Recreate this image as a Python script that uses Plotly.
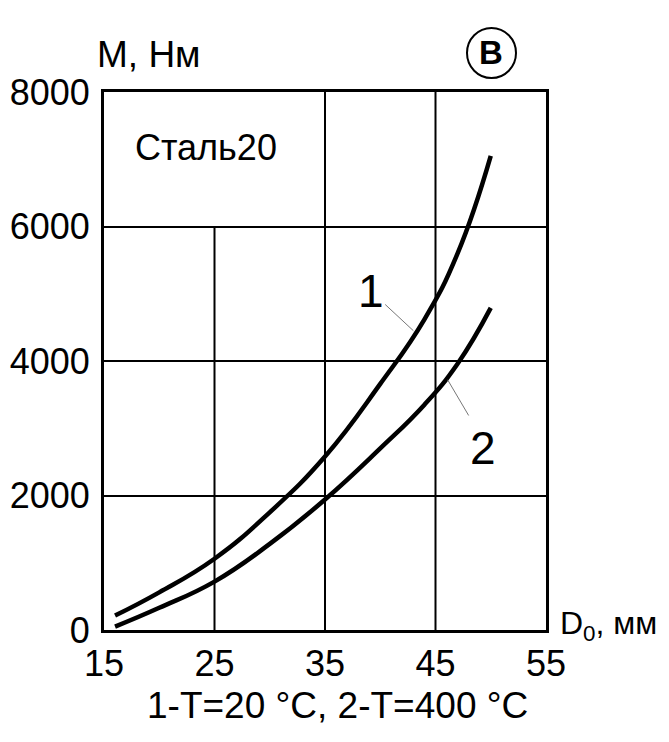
import plotly.graph_objects as go

# Data
d0 = [16, 20, 25, 30, 35, 40, 44, 47, 50]
m_t20 = [215, 560, 1060, 1750, 2580, 3660, 4620, 5600, 7050]    # curve 1, T=20 °C
m_t400 = [50, 330, 720, 1280, 1940, 2700, 3350, 3960, 4790]      # curve 2, T=400 °C
x_ticks = [15, 25, 35, 45, 55]
y_ticks = [0, 2000, 4000, 6000, 8000]

FONT = "Liberation Sans, Arial, sans-serif"
OFF = 7  # page offset of the figure inside the browser window
L, R, T, B = 103, 545, 91, 629  # target plot area in window pixels
W, H = R - L, B - T


def px(xp):
    return (xp - L) / W


def py(yp):
    return (B - yp) / H


fig = go.Figure()
fig.add_trace(go.Scatter(x=d0, y=m_t20, mode="lines",
                         line=dict(color="black", width=4.5, shape="spline", smoothing=1.3),
                         showlegend=False, hoverinfo="skip"))
fig.add_trace(go.Scatter(x=d0, y=m_t400, mode="lines",
                         line=dict(color="black", width=4.5, shape="spline", smoothing=1.3),
                         showlegend=False, hoverinfo="skip"))

shapes = []
for xv, ytop in [(25, 6000), (35, 8000), (45, 8000)]:
    shapes.append(dict(type="line", xref="x", yref="y", x0=xv, x1=xv, y0=0, y1=ytop,
                       line=dict(color="black", width=2), layer="below"))
shapes.append(dict(type="line", xref="x", yref="y", x0=40.45, y0=4840, x1=43.0, y1=4450,
                   line=dict(color="#777777", width=1)))
shapes.append(dict(type="line", xref="x", yref="y", x0=46.1, y0=3720, x1=48.0, y1=3190,
                   line=dict(color="#777777", width=1)))
shapes.append(dict(type="circle", xref="paper", yref="paper",
                   x0=px(466), x1=px(515), y0=py(77), y1=py(27),
                   line=dict(color="black", width=2)))


def ann(text, x, y, size, xref="paper", yref="paper", xanchor="center"):
    return dict(text=text, x=x, y=y, xref=xref, yref=yref, xanchor=xanchor,
                yanchor="middle", showarrow=False,
                font=dict(size=size, family=FONT, color="black"))


annotations = [
    ann("Сталь20", 24.2, 7170, 36, "x", "y"),
    ann("1", 39.15, 5040, 46, "x", "y"),
    ann("2", 49.3, 2710, 46, "x", "y"),
    ann("M, Нм", px(147.5), py(53), 37),
    ann("D<sub>0</sub>, мм", px(557), py(624), 32, xanchor="left"),
    ann("<b>В</b>", px(490), py(52), 33),
    ann("1-T=20 °C, 2-T=400 °C", px(336), py(704), 37),
]

fig.update_layout(
    width=669, height=742,
    margin=dict(l=L - OFF, r=669 - (R - OFF), t=T - OFF, b=742 - (B - OFF), autoexpand=False),
    paper_bgcolor="white", plot_bgcolor="white",
    showlegend=False,
    shapes=shapes,
    annotations=annotations,
    font=dict(family=FONT, color="black"),
)
fig.update_xaxes(range=[15, 55], tickvals=x_ticks, ticktext=[str(v) for v in x_ticks],
                 showgrid=False, zeroline=False, showline=True, linecolor="black",
                 linewidth=3, mirror=True, ticks="", ticklabelstandoff=0, automargin=False,
                 tickfont=dict(size=36, family=FONT, color="black"))
fig.update_yaxes(range=[0, 8000], tickvals=y_ticks, ticktext=[str(v) for v in y_ticks],
                 showgrid=True, gridcolor="black", gridwidth=2, zeroline=False,
                 showline=True, linecolor="black", linewidth=3, mirror=True, ticks="",
                 ticklabelstandoff=4, automargin=False,
                 tickfont=dict(size=36, family=FONT, color="black"))

fig.write_html("out.html")
